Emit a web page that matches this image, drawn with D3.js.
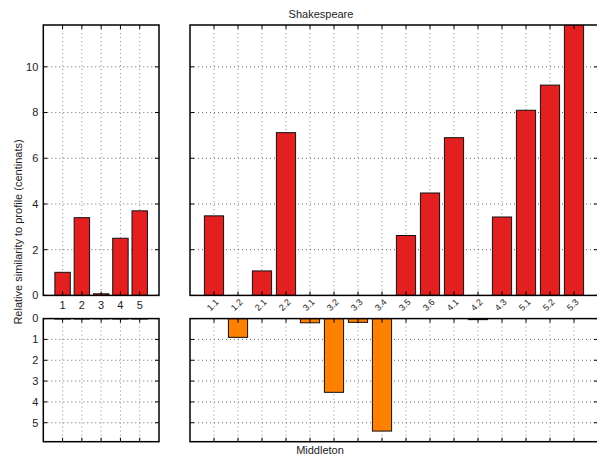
<!DOCTYPE html>
<html>
<head>
<meta charset="utf-8">
<script src="https://cdn.jsdelivr.net/npm/d3@7"></script>
<style>
  body { margin: 0; background: #fff; }
  text { font-family: "Liberation Sans", Arial, sans-serif; fill: #222; }
</style>
</head>
<body>
<div id="chart"></div>
<script>
// acts (left) and scenes (right)
const actLabels = ["1", "2", "3", "4", "5"];
const sceneLabels = ["1.1", "1.2", "2.1", "2.2", "3.1", "3.2", "3.3", "3.4",
  "3.5", "3.6", "4.1", "4.2", "4.3", "5.1", "5.2", "5.3"];

const shakespeareActs = [1.01, 3.4, 0.07, 2.5, 3.7];
const shakespeareScenes = [3.48, 0, 1.07, 7.12, 0, 0, 0, 0,
  2.62, 4.48, 6.9, 0, 3.43, 8.1, 9.2, 11.9];

const middletonActs = [0.02, 0.02, 0.01, 0.02, 0.02];
const middletonScenes = [0, 0.9, 0, 0, 0.2, 3.54, 0.18, 5.4,
  0, 0, 0, 0.05, 0, 0, 0, 0];

const topTicks = [0, 2, 4, 6, 8, 10];
const bottomTicks = [0, 1, 2, 3, 4, 5];

const width = 597;
const height = 458;
const red = "#e41f1f";
const orange = "#ff7f00";

const svg = d3.select("#chart").append("svg")
  .attr("width", width).attr("height", height);

const yTop = d3.scaleLinear().domain([0, 11.83]).range([295.4, 25]);
const yBottom = d3.scaleLinear().domain([0, 5.91]).range([318.6, 441.7]);

function drawPanel(opts) {
  const { cats, values, x0, x1, y, ticks, color, showY, reversed, xLabels } = opts;
  const x = d3.scalePoint().domain(cats).range([x0, x1]).padding(1);
  const bw = x.step() * 0.8;
  const [ya, yb] = y.range();
  const yMin = Math.min(ya, yb), yMax = Math.max(ya, yb);

  const g = svg.append("g");
  const clipId = "clip" + Math.round(x0) + "_" + Math.round(yMin);
  g.append("clipPath").attr("id", clipId).append("rect")
    .attr("x", x0).attr("y", yMin).attr("width", x1 - x0).attr("height", yMax - yMin);

  // grid
  g.selectAll(".hgrid").data(ticks.filter(t => t !== 0)).enter().append("line")
    .attr("x1", x0).attr("x2", x1)
    .attr("y1", d => y(d)).attr("y2", d => y(d))
    .attr("stroke", "#666").attr("stroke-width", 1).attr("stroke-dasharray", "1,3");
  g.selectAll(".vgrid").data(cats).enter().append("line")
    .attr("x1", d => x(d)).attr("x2", d => x(d))
    .attr("y1", yMin).attr("y2", yMax)
    .attr("stroke", "#888").attr("stroke-width", 1).attr("stroke-dasharray", "1,3");

  // bars
  g.append("g").attr("clip-path", `url(#${clipId})`)
    .selectAll("rect").data(cats).enter().append("rect")
    .attr("x", d => x(d) - bw / 2)
    .attr("width", bw)
    .attr("y", (d, i) => Math.min(y(0), y(values[i])))
    .attr("height", (d, i) => Math.abs(y(values[i]) - y(0)))
    .attr("fill", color)
    .attr("stroke", "#111").attr("stroke-width", 1);

  // inward tick marks
  const tl = 4;
  g.selectAll(".xt").data(cats).enter().append("line")
    .attr("x1", d => x(d)).attr("x2", d => x(d))
    .attr("y1", yMax).attr("y2", yMax - tl)
    .attr("stroke", "#000");
  g.selectAll(".xt2").data(cats).enter().append("line")
    .attr("x1", d => x(d)).attr("x2", d => x(d))
    .attr("y1", yMin).attr("y2", yMin + tl)
    .attr("stroke", "#000");
  g.selectAll(".yt").data(ticks).enter().append("line")
    .attr("x1", x0).attr("x2", x0 + tl)
    .attr("y1", d => y(d)).attr("y2", d => y(d))
    .attr("stroke", "#000");
  g.selectAll(".yt2").data(ticks).enter().append("line")
    .attr("x1", x1).attr("x2", x1 - tl)
    .attr("y1", d => y(d)).attr("y2", d => y(d))
    .attr("stroke", "#000");

  // frame
  g.append("rect").attr("x", x0).attr("y", yMin)
    .attr("width", x1 - x0).attr("height", yMax - yMin)
    .attr("fill", "none").attr("stroke", "#000").attr("stroke-width", 1.5);

  if (showY) {
    g.selectAll(".yl").data(ticks).enter().append("text")
      .attr("x", x0 - 5).attr("y", d => y(d))
      .attr("dy", "0.35em").attr("text-anchor", "end")
      .attr("font-size", 11).text(d => d);
  }
  if (xLabels === "straight") {
    g.selectAll(".xl").data(cats).enter().append("text")
      .attr("x", d => x(d)).attr("y", yMax + 14)
      .attr("text-anchor", "middle").attr("font-size", 11).text(d => d);
  } else if (xLabels === "rotated") {
    g.selectAll(".xl").data(cats).enter().append("text")
      .attr("transform", d => `translate(${x(d) + 3},${yMax + 5}) rotate(-45)`)
      .attr("text-anchor", "end").attr("dy", "0.35em")
      .attr("font-size", 9).text(d => d);
  }
}

drawPanel({ cats: actLabels, values: shakespeareActs, x0: 43.3, x1: 159, y: yTop,
  ticks: topTicks, color: red, showY: true, xLabels: "straight" });
drawPanel({ cats: sceneLabels, values: shakespeareScenes, x0: 190, x1: 598, y: yTop,
  ticks: topTicks, color: red, showY: false, xLabels: "rotated" });
drawPanel({ cats: actLabels, values: middletonActs, x0: 43.3, x1: 159, y: yBottom,
  ticks: bottomTicks, color: orange, showY: true, xLabels: null });
drawPanel({ cats: sceneLabels, values: middletonScenes, x0: 190, x1: 598, y: yBottom,
  ticks: bottomTicks, color: orange, showY: false, xLabels: null });

svg.append("text").attr("x", 321).attr("y", 18).attr("text-anchor", "middle")
  .attr("font-size", 11).text("Shakespeare");
svg.append("text").attr("x", 320).attr("y", 454).attr("text-anchor", "middle")
  .attr("font-size", 11).text("Middleton");
svg.append("text")
  .attr("transform", "translate(22,232) rotate(-90)")
  .attr("text-anchor", "middle").attr("font-size", 11)
  .text("Relative similarity to profile (centinats)");
</script>
</body>
</html>
